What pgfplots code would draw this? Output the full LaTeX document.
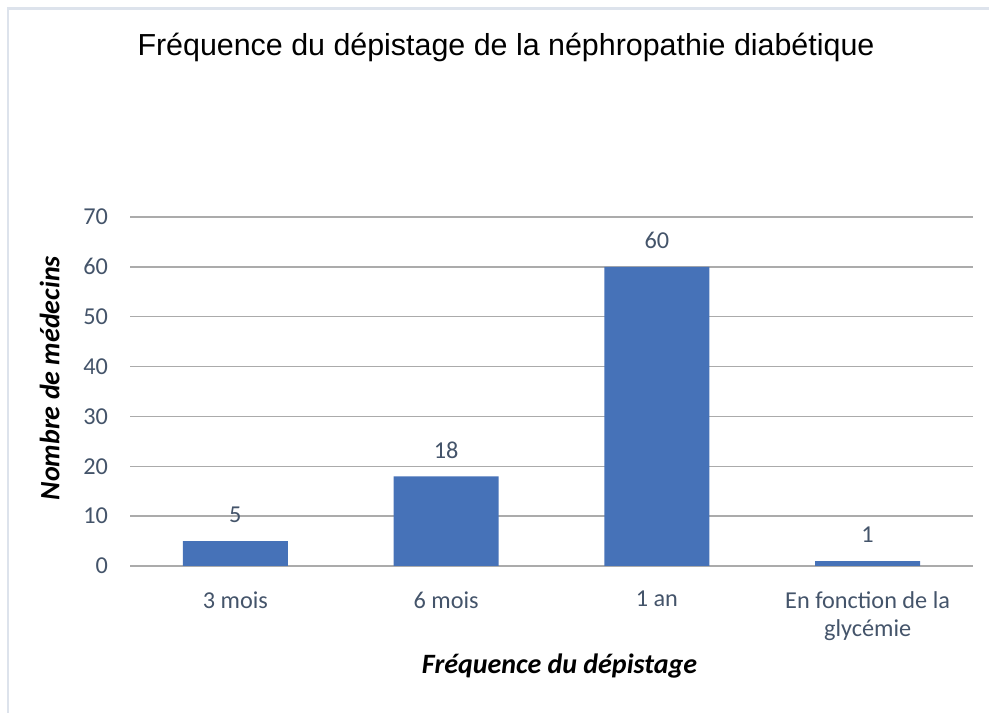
\documentclass[border=0pt]{standalone}
\usepackage{fontspec}
\setmainfont{Carlito}
\newfontfamily\titlefont{Liberation Sans}
\usepackage{pgfplots}
\pgfplotsset{compat=1.18}
\definecolor{barblue}{HTML}{4672B8}
\definecolor{ticktext}{HTML}{44546A}
\definecolor{gridgray}{HTML}{ABABAB}
\definecolor{framecol}{HTML}{DDE3EC}
\begin{document}
\begin{tikzpicture}[x=0.75pt,y=0.75pt]
\path[use as bounding box] (0,0) rectangle (989,713);
\coordinate (AX) at (130,147);
\draw[framecol,line width=2.2pt] (8,0) -- (8,704.5) -- (989,704.5);
\node[font=\titlefont\fontsize{22.8}{27}\selectfont] at (506,666) {Fréquence du dépistage de la néphropathie diabétique};
\begin{axis}[
  at={(AX)}, anchor=south west,
  scale only axis,
  width=632.25pt, height=261.75pt,
  xmin=-0.5, xmax=3.5, ymin=0, ymax=70,
  ytick={0,10,...,70},
  xtick={0,1,2,3},
  xticklabels={3 mois, 6 mois, 1 an, {En fonction de la\\glycémie}},
  ymajorgrids, grid style={gridgray, line width=1.1pt},
  axis line style={draw=none},
  major tick length=0pt,
  /pgf/number format/assume math mode=true,
  tick label style={font=\fontsize{18.2}{21.5}\selectfont, text=ticktext},
  xticklabel style={align=center, anchor=north, yshift=-15.5pt},
  yticklabel style={xshift=-13pt},
  xlabel={\textbf{\textit{Fréquence du dépistage}}},
  ylabel={\textbf{\textit{Nombre de médecins}}},
  label style={font=\fontsize{21}{25}\selectfont},
  xlabel style={yshift=-3pt, xshift=6pt},
  ylabel style={yshift=11pt, xshift=10pt},
  nodes near coords,
  every node near coord/.append style={font=\fontsize{18.2}{21}\selectfont, text=ticktext, yshift=10pt},
]
\addplot[ybar, bar width=78.75pt, fill=barblue, draw=none] coordinates {(0,5) (1,18) (2,60) (3,1)};
\end{axis}
\end{tikzpicture}
\end{document}
